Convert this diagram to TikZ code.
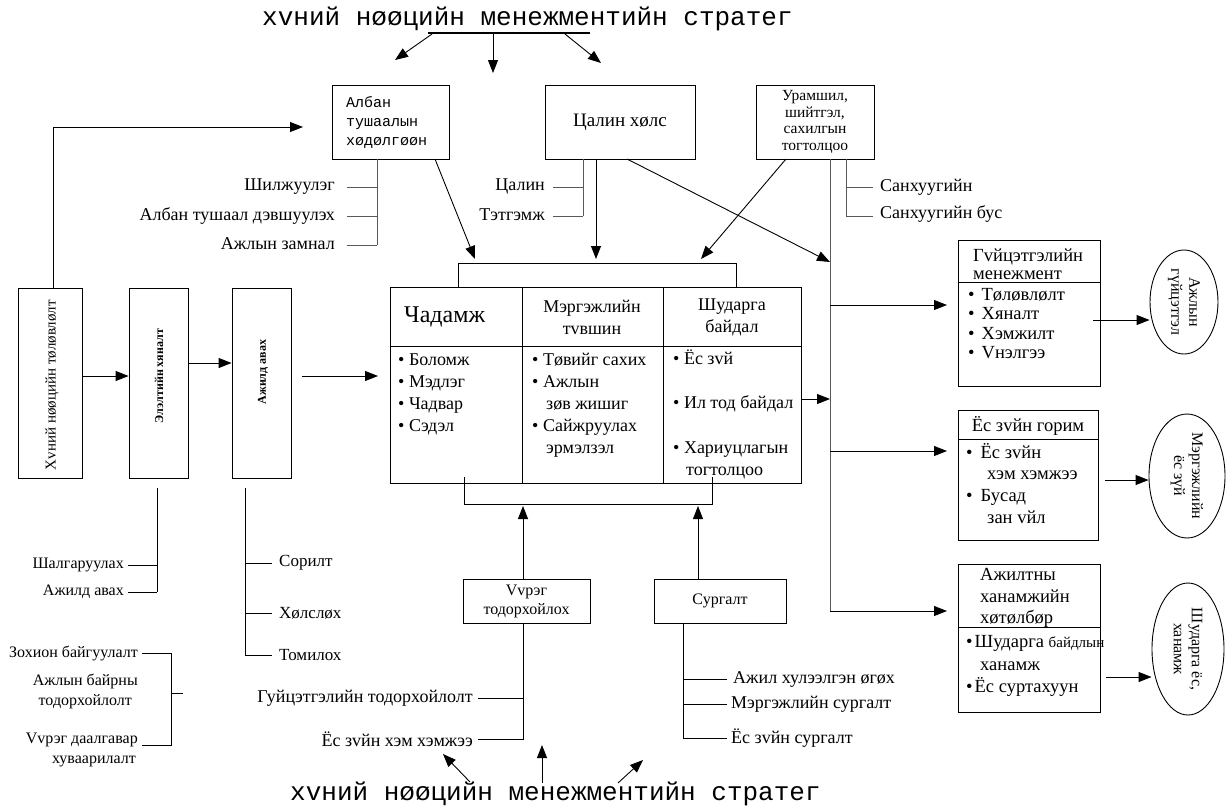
\documentclass[tikz,border=0pt]{standalone}
\usepackage{fontspec}
\setmainfont{Liberation Serif}
\newfontfamily\monofam{Liberation Mono}
\usetikzlibrary{arrows.meta,shapes.geometric}
\begin{document}
\begin{tikzpicture}[x=1pt,y=-1pt,
  box/.style={draw,line width=0.9pt,inner sep=0pt},
  arr/.style={-{Triangle[length=13pt,width=10pt]},line width=0.9pt},
  gl/.style={draw=black!65,line width=1pt},
  ln/.style={draw,line width=0.9pt},
  lbl/.style={font=\fontsize{18}{20}\selectfont,inner sep=0pt},
  lbs/.style={font=\fontsize{16}{20}\selectfont,inner sep=0pt},
  tx/.style={font=\fontsize{18}{22}\selectfont,inner sep=0pt,anchor=base west},
  rt/.style={font=\fontsize{18.5}{20}\selectfont,inner sep=0pt,anchor=base west},
  ell/.style={draw,line width=0.9pt,ellipse,inner sep=0pt}]
\useasboundingbox[fill=white] (0,0) rectangle (1227,807);

% titles
\node[font=\monofam\fontsize{26}{30}\selectfont,anchor=base west,inner sep=0pt] (ttop) at (262,25) {хvний нøøцийн менежментийн стратег};
\node[font=\monofam\fontsize{26}{30}\selectfont,anchor=base west,inner sep=0pt] (tbot) at (290,800) {хvний нøøцийн менежментийн стратег};
\coordinate (ulA) at (428,33); \coordinate (ulB) at (590,33);
\draw[line width=2.6pt] (ulA) -- (ulB);
\coordinate (ta1) at (432,34); \coordinate (ta1e) at (395,60);
\coordinate (ta2) at (493,34); \coordinate (ta2e) at (493,73);
\coordinate (ta3) at (565,34); \coordinate (ta3e) at (601,63);
\draw[arr] (ta1) -- (ta1e);
\draw[arr] (ta2) -- (ta2e);
\draw[arr] (ta3) -- (ta3e);
\coordinate (ba1) at (470,782); \coordinate (ba1e) at (443,754);
\coordinate (ba2) at (542,783); \coordinate (ba2e) at (542,745);
\coordinate (ba3) at (618,783); \coordinate (ba3e) at (643,760);
\draw[arr] (ba1) -- (ba1e);
\draw[arr] (ba2) -- (ba2e);
\draw[arr] (ba3) -- (ba3e);

% top boxes
\node[box,minimum width=117,minimum height=74] (alban) at (390.5,122) {};
\node[font=\monofam\fontsize{15}{19}\selectfont,align=left,anchor=north west,inner sep=0pt] (albantx) at (346,96) {Албан\\тушаалын\\хøдøлгøøн};
\node[box,minimum width=150,minimum height=74,font=\fontsize{19}{22}\selectfont] (tsalin) at (620,122) {Цалин хøлс};
\node[box,minimum width=118,minimum height=74,font=\fontsize{15.5}{16.5}\selectfont,align=center] (uram) at (815,122) {Урамшил,\\шийтгэл,\\сахилгын\\тогтолцоо};

% alban sub-items
\coordinate (a0) at (377,159); \coordinate (a3) at (377,245);
\draw[gl] (a0) -- (a3);
\node[lbl,anchor=east] (al1) at (335,187) {Шилжуулэг};
\node[lbl,anchor=east] (al2) at (335,216) {Албан тушаал дэвшуулэх};
\node[lbl,anchor=east] (al3) at (335,244) {Ажлын замнал};
\draw[gl] (347,187) -- (377,187);
\draw[gl] (347,216) -- (377,216);
\draw[gl] (347,245) -- (377,245);

% tsalin sub-items
\coordinate (s0) at (583,159); \coordinate (s2) at (583,216);
\draw[gl] (s0) -- (s2);
\node[lbl,anchor=east] (sl1) at (545,187) {Цалин};
\node[lbl,anchor=east] (sl2) at (545,215) {Тэтгэмж};
\draw[gl] (553,187) -- (583,187);
\draw[gl] (553,216) -- (583,216);

% uram sub-items
\coordinate (u0) at (846,159); \coordinate (u2) at (846,216);
\draw[gl] (u0) -- (u2);
\draw[gl] (846,187) -- (873,187);
\draw[gl] (846,216) -- (873,216);
\node[lbl,anchor=west] (ul1) at (880,187) {Санхуугийн};
\node[lbl,anchor=west] (ul2) at (880,214) {Санхуугийн бус};

% vertical left boxes
\node[box,minimum width=64,minimum height=190] (hv) at (50,383) {};
\node[rotate=90,font=\fontsize{15}{18}\selectfont,inner sep=0pt] (hvtx) at (52,385) {Хvний нøøцийн тøлøвлøлт};
\node[box,minimum width=59,minimum height=190] (el) at (158.5,383) {};
\node[rotate=90,font=\bfseries\fontsize{12}{14}\selectfont,inner sep=0pt] (eltx) at (159,376) {Элэлтийн хяналт};
\node[box,minimum width=59,minimum height=190] (aj) at (261.5,383) {};
\node[rotate=90,font=\bfseries\fontsize{12}{14}\selectfont,inner sep=0pt] (ajtx) at (263,372) {Ажилд авах};

\coordinate (hvtop) at (53,288); \coordinate (albarr) at (303,127);
\draw[arr] (hvtop) |- (albarr);
\draw[arr] (hv.east |- 0,376) -- (el.west |- 0,376);
\draw[arr] (el.east |- 0,363) -- (aj.west |- 0,363);
\coordinate (ajout) at (302,376); \coordinate (tabin) at (378,376);
\draw[arr] (ajout) -- (tabin);

% el sub
\coordinate (e0) at (157,488); \coordinate (e2) at (157,592);
\draw[ln] (e0) -- (e2);
\draw[ln] (128,565) -- (157,565);
\draw[ln] (128,592) -- (157,592);
\node[lbs,anchor=east] (el1) at (124,565) {Шалгаруулах};
\node[lbs,anchor=east] (el2) at (124,592) {Ажилд авах};

% aj sub
\coordinate (j0) at (245,488); \coordinate (j3) at (245,655);
\draw[ln] (j0) -- (j3);
\draw[ln] (245,563) -- (272,563);
\draw[ln] (245,613) -- (272,613);
\draw[ln] (245,655) -- (272,655);
\node[lbs,font=\fontsize{17}{20}\selectfont,anchor=west] (aj1) at (279,563) {Сорилт};
\node[lbs,font=\fontsize{17}{20}\selectfont,anchor=west] (aj2) at (279,613) {Хøлслøх};
\node[lbs,font=\fontsize{17}{20}\selectfont,anchor=west] (aj3) at (279,655) {Томилох};

% bottom-left bracket
\node[lbs,anchor=east] (zo1) at (138,653) {Зохион байгуулалт};
\node[lbs,anchor=east,align=center] (zo2) at (138,691) {Ажлын байрны\\тодорхойлолт};
\node[lbs,anchor=north east,align=right] (zo3) at (138,733) {Vvрэг даалгавар\\хуваарилалт\hspace*{2pt}};
\draw[ln] (142,653) -- (171,653) -- (171,745) -- (142,745);
\draw[ln] (171,693) -- (183,693);

% table
\node[box,minimum width=411,minimum height=196,anchor=north west] (tab) at (390,287) {};
\draw[ln] (390,346) -- (801,346);
\draw[ln] (522,287) -- (522,483);
\draw[ln] (663,287) -- (663,483);
\draw[ln] (458,287) -- (458,263) -- (736,263) -- (736,287);
\draw[ln] (464,477) -- (464,504) -- (712,504) -- (712,477);

\node[font=\fontsize{24}{28}\selectfont,anchor=base west,inner sep=0pt] (h1) at (404,322) {Чадамж};
\node[font=\fontsize{18}{22}\selectfont,align=center,inner sep=0pt] (h2) at (592,317) {Мэргэжлийн\\тvвшин};
\node[font=\fontsize{18}{22}\selectfont,align=center,inner sep=0pt] (h3) at (732,317) {Шударга\\байдал};

\node[tx] (c11) at (398,365) {• Боломж};
\node[tx] (c12) at (398,387) {• Мэдлэг};
\node[tx] (c13) at (398,409) {• Чадвар};
\node[tx] (c14) at (398,431) {• Сэдэл};

\node[tx] (c21) at (532,365) {• Тøвийг сахих};
\node[tx] (c22) at (532,387) {• Ажлын};
\node[tx] (c23) at (546,409) {зøв жишиг};
\node[tx] (c24) at (532,431) {• Сайжруулах};
\node[tx] (c25) at (546,453) {эрмэлзэл};

\node[tx] (c31) at (673,364) {• Ёс зvй};
\node[tx] (c32) at (673,408) {• Ил тод байдал};
\node[tx] (c33) at (673,453) {• Хариуцлагын};
\node[tx] (c34) at (686,475) {тогтолцоо};

% arrows into the table bracket
\coordinate (brL) at (475,259); \coordinate (brM) at (596,259); \coordinate (brR) at (701,259);
\coordinate (alo) at (435,159); \coordinate (uro) at (786,159);
\draw[arr] (alo) -- (brL);
\draw[arr] (tsalin.south -| brM) -- (brM);
\draw[arr] (uro) -- (brR);

% right spine
\coordinate (sp0) at (830,159); \coordinate (sp1) at (830,611);
\draw[gl] (sp0) -- (sp1);
\coordinate (tso) at (627,159); \coordinate (spin) at (830,262);
\draw[arr] (tso) -- (spin);
\coordinate (tabout) at (802,399); \coordinate (spin2) at (830,399);
\draw[arr] (tabout) -- (spin2);

% right boxes
\node[box,minimum width=142,minimum height=146,anchor=north west] (gm) at (958,240) {};
\draw[ln] (958,282) -- (1100,282);
\node[rt] (gm0) at (973,261) {Гvйцэтгэлийн};
\node[rt] (gm00) at (973,279) {менежмент};
\node[rt] (gm1) at (968,300) {•\hspace{7pt}Тøлøвлøлт};
\node[rt] (gm2) at (968,319) {•\hspace{7pt}Хяналт};
\node[rt] (gm3) at (968,339) {•\hspace{7pt}Хэмжилт};
\node[rt] (gm4) at (968,358) {•\hspace{7pt}Vнэлгээ};

\node[box,minimum width=140,minimum height=130,anchor=north west] (ez) at (958,410) {};
\draw[ln] (958,439) -- (1098,439);
\node[rt,anchor=base] (ez0) at (1028,431) {Ёс зvйн горим};
\node[rt] (ez1) at (966,458) {•\hspace{8pt}Ёс зvйн};
\node[rt] (ez2) at (987,479) {хэм хэмжээ};
\node[rt] (ez3) at (966,501) {•\hspace{8pt}Бусад};
\node[rt] (ez4) at (987,523) {зан vйл};

\node[box,minimum width=142,minimum height=148,anchor=north west] (ah) at (958,564) {};
\draw[ln] (958,627) -- (1100,627);
\node[rt] (ah0) at (980,580) {Ажилтны};
\node[rt] (ah00) at (980,602) {ханамжийн};
\node[rt] (ah000) at (980,623) {хøтøлбøр};
\node[rt] (ah1) at (966,647) {•\hspace{2pt}Шударга {\fontsize{15}{16}\selectfont байдлын}};
\node[rt] (ah2) at (980,670) {ханамж};
\node[rt] (ah3) at (966,692) {•\hspace{2pt}Ёс суртахуун};

\coordinate (g1) at (830,305); \coordinate (g2) at (830,451);
\draw[arr] (g1) -- (947,305);
\draw[arr] (g2) -- (947,451);
\draw[arr] (sp1) -- (947,611);

% ellipses
\node[ell,minimum width=68,minimum height=104] (e1) at (1184,302) {};
\node[rotate=-90,font=\fontsize{16}{18}\selectfont,align=center,inner sep=0pt] (e1t) at (1184,302) {Ажлын\\гүйцэтгэл};
\node[ell,minimum width=76,minimum height=124] (e2) at (1187,476) {};
\node[rotate=-90,font=\fontsize{16}{18}\selectfont,align=center,inner sep=0pt] (e2t) at (1187,476) {Мэргэжлийн\\ёс зүй};
\node[ell,minimum width=72,minimum height=132] (e3) at (1188,649) {};
\node[rotate=-90,font=\fontsize{16}{18}\selectfont,align=center,inner sep=0pt] (e3t) at (1188,649) {Шударга ёс,\\ханамж};

\coordinate (gmo) at (1093,320); \coordinate (ezo) at (1105,480); \coordinate (aho) at (1106,677);
\draw[arr] (gmo) -- (e1.west |- gmo);
\draw[arr] (ezo) -- (e2.west |- ezo);
\draw[arr] (aho) -- (e3.west |- aho);

% bottom boxes
\node[box,minimum width=127,minimum height=44,font=\fontsize{16}{19}\selectfont,align=center] (vv) at (526.5,601) {Vvрэг\\тодорхойлох};
\node[box,minimum width=132,minimum height=44,font=\fontsize{16}{19}\selectfont] (sg) at (720,601) {Сургалт};
\draw[arr] (vv.north -| 523,0) -- (523,506);
\draw[arr] (sg.north -| 698,0) -- (698,506);

\coordinate (v0) at (523,623); \coordinate (v2) at (523,739);
\draw[ln] (v0) -- (v2) -- (478,739);
\draw[ln] (478,698) -- (523,698);
\node[lbl,anchor=east] (vl1) at (473,698) {Гуйцэтгэлийн тодорхойлолт};
\node[lbl,anchor=east] (vl2) at (473,739) {Ёс зvйн хэм хэмжээ};

\coordinate (q0) at (683,623); \coordinate (q3) at (683,738);
\draw[ln] (q0) -- (q3) -- (727,738);
\draw[ln] (683,679) -- (727,679);
\draw[ln] (683,704) -- (727,704);
\node[lbl,anchor=west] (ql1) at (733,679) {Ажил хулээлгэн øгøх};
\node[lbl,anchor=west] (ql2) at (731,704) {Мэргэжлийн сургалт};
\node[lbl,anchor=west] (ql3) at (731,738) {Ёс зvйн сургалт};
\end{tikzpicture}
\end{document}
